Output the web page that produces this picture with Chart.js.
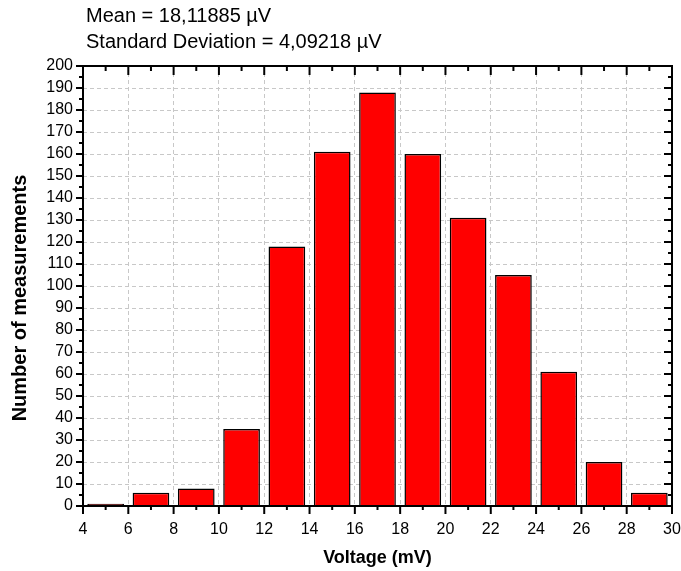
<!DOCTYPE html>
<html>
<head>
<meta charset="utf-8">
<script src="https://cdn.jsdelivr.net/npm/chart.js@4/dist/chart.umd.min.js"></script>
<style>
	body { margin: 0; background: #fff; }
</style>
</head>
<body>
<canvas id="chart-histogram" width="681" height="571"></canvas>
<script>
// Data
const BIN_CENTERS = [5, 7, 9, 11, 13, 15, 17, 19, 21, 23, 25, 27, 29];
const COUNTS = [1, 6, 8, 35, 118, 161, 188, 160, 131, 105, 61, 20, 6];
const HEADER_LINES = ["Mean = 18,11885 \u00b5V", "Standard Deviation = 4,09218 \u00b5V"];
const X_TITLE = "Voltage (mV)";
const Y_TITLE = "Number of measurements";
const X_MIN = 4, X_MAX = 30, X_STEP = 2;
const Y_MIN = 0, Y_MAX = 200, Y_STEP = 10;

const FONT = "Arial, 'Liberation Sans', sans-serif";
const CHART_WRAPPER = document.getElementById("chart-histogram");

//---------------------------------------------------------
// Frame, minor ticks, axis titles and header text
//---------------------------------------------------------
const framePlugin = {
	id: "frame",
	afterDraw(chart) {
		const { ctx, chartArea: a, scales } = chart;
		const line = (x1, y1, x2, y2) => {
			ctx.beginPath();
			ctx.moveTo(x1, y1);
			ctx.lineTo(x2, y2);
			ctx.stroke();
		};
		ctx.save();
		ctx.strokeStyle = "#000";
		ctx.lineWidth = 2;
		ctx.strokeRect(a.left, a.top, a.right - a.left, a.bottom - a.top);

		// x ticks: outward at bottom, inward at top
		for (let v = X_MIN; v <= X_MAX; v += X_STEP / 2) {
			const px = scales.x.getPixelForValue(v);
			const major = (v - X_MIN) % X_STEP === 0;
			line(px, a.bottom, px, a.bottom + (major ? 8 : 4));
			line(px, a.top, px, a.top + (major ? 9 : 5));
		}
		// y ticks: outward at left, inward at right
		for (let v = Y_MIN; v <= Y_MAX; v += Y_STEP / 2) {
			const py = scales.y.getPixelForValue(v);
			const major = (v - Y_MIN) % Y_STEP === 0;
			line(a.left - (major ? 7 : 4), py, a.left, py);
			line(a.right - (major ? 8 : 4), py, a.right, py);
		}

		ctx.fillStyle = "#000";

		// header
		ctx.font = `20px ${FONT}`;
		ctx.textAlign = "left";
		ctx.textBaseline = "alphabetic";
		HEADER_LINES.forEach((text, i) => {
			ctx.fillText(text, a.left + 3, 22 + i * 26);
		});

		// axis titles
		ctx.font = `bold 18px ${FONT}`;
		ctx.textAlign = "center";
		ctx.textBaseline = "middle";
		ctx.fillText(X_TITLE, (a.left + a.right) / 2, 558);

		ctx.font = `bold 20px ${FONT}`;
		ctx.translate(20, (a.top + a.bottom) / 2 + 12);
		ctx.rotate(-Math.PI / 2);
		ctx.fillText(Y_TITLE, 0, 0);
		ctx.restore();
	},
};

//---------------------------------------------------------
// Chart
//---------------------------------------------------------
const CHART_DATA = {
	datasets: [
		{
			label: "Counts",
			data: BIN_CENTERS.map((x, i) => ({ x: x, y: COUNTS[i] })),
			backgroundColor: "#ff0000",
			borderColor: "#000",
			borderWidth: 1.5,
			barPercentage: 0.81,
			categoryPercentage: 1,
		},
	],
};

const CHART_CONFIG = {
	type: "bar",
	data: CHART_DATA,
	plugins: [framePlugin],
	options: {
		responsive: false,
		animation: false,
		layout: {
			padding: { top: 66, right: 9, left: 0, bottom: 0 },
		},
		scales: {
			x: {
				type: "linear",
				min: X_MIN,
				max: X_MAX,
				offset: false,
				border: { display: false, dash: [4, 3] },
				grid: {
					offset: false,
					color: "#c8c8c8",
					drawTicks: false,
				},
				ticks: {
					stepSize: X_STEP,
					autoSkip: false,
					padding: 14,
					color: "#000",
					font: { family: FONT, size: 16 },
					maxRotation: 0,
				},
				afterFit: (scale) => {
					scale.height = 65;
					scale.paddingLeft = 0;
					scale.paddingRight = 0;
				},
			},
			y: {
				min: Y_MIN,
				max: Y_MAX,
				border: { display: false, dash: [4, 3] },
				grid: {
					color: "#c8c8c8",
					drawTicks: false,
				},
				ticks: {
					stepSize: Y_STEP,
					autoSkip: false,
					padding: 10,
					color: "#000",
					font: { family: FONT, size: 16 },
				},
				afterFit: (scale) => {
					scale.width = 83;
					scale.paddingTop = 0;
					scale.paddingBottom = 0;
				},
			},
		},
		plugins: {
			legend: { display: false },
			tooltip: { enabled: false },
		},
	},
};

if (CHART_WRAPPER) {
	new Chart(CHART_WRAPPER, CHART_CONFIG);
}
</script>
</body>
</html>
